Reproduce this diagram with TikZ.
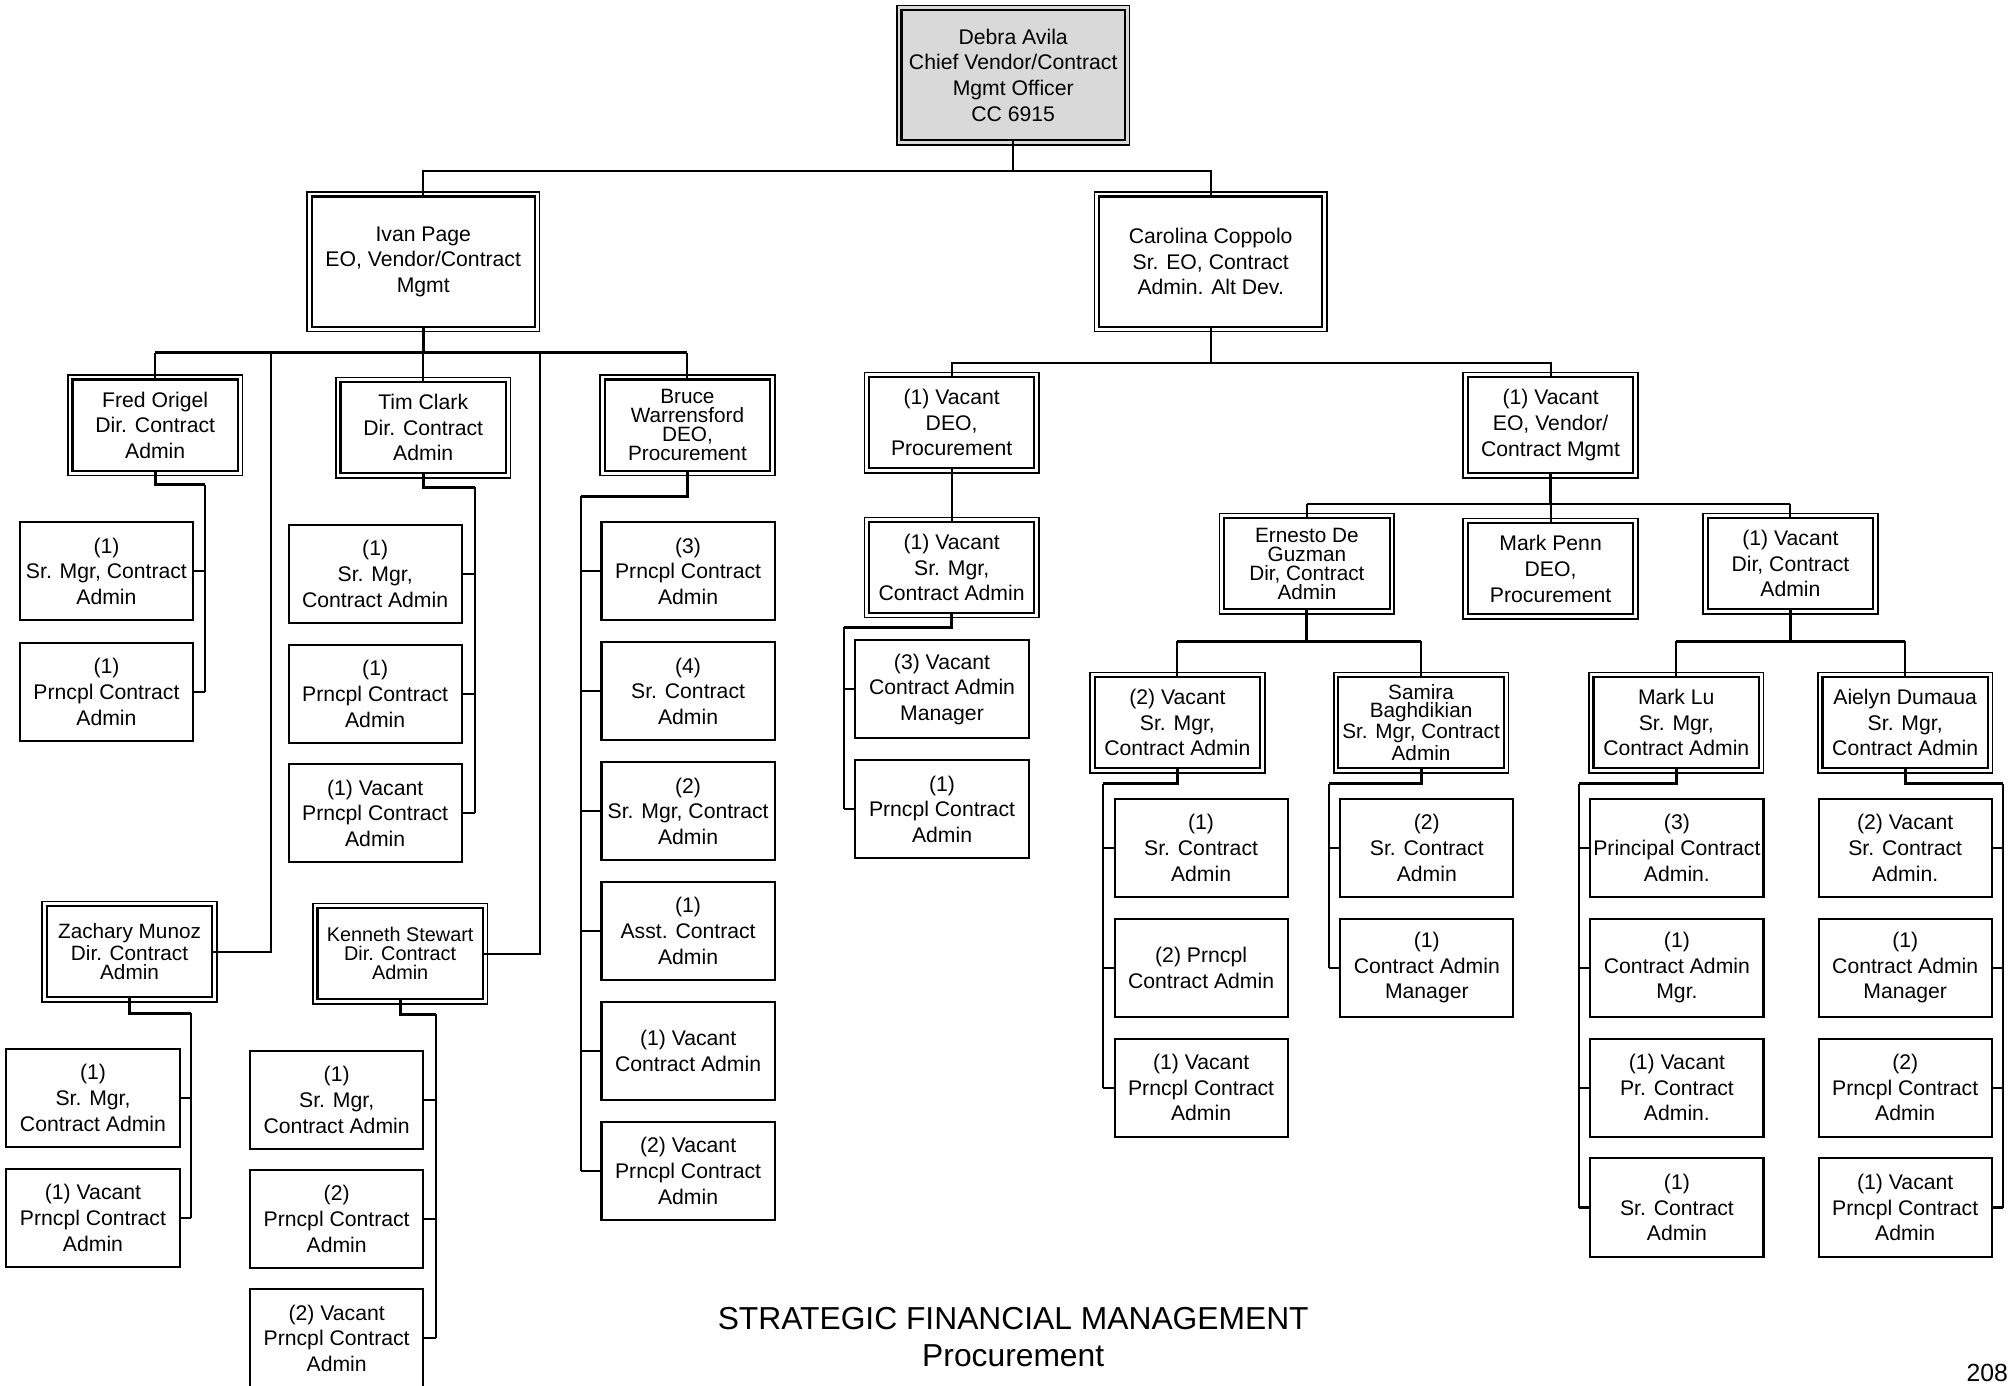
\documentclass[tikz,border=0pt]{standalone}
\usepackage{fontspec}
\setmainfont{Liberation Sans}
\usetikzlibrary{calc}
\definecolor{rootgray}{RGB}{217,217,217}
\tikzset{
  box/.style={align=center,inner sep=0pt,font=\fontsize{9.4}{11.4}\selectfont},
  staffbox/.style={box,draw,line width=.9pt,minimum width=27mm,minimum height=15.3mm},
  mgr/.style={box,draw,line width=1pt,fill=#1,
    preaction={draw,line width=4.8pt},preaction={draw=#1,line width=3.4pt},
    minimum width=25.8mm,minimum height=14.2mm},
  mgr/.default=white,
  big/.style={minimum width=34.8mm,minimum height=20.3mm},
  tight/.style={font=\fontsize{9.2}{8.4}\selectfont},
  link/.style={line width=.9pt},
  bus/.style={line width=1.3pt},
}
\begin{document}
\begin{tikzpicture}[x=.2mm,y=-.2mm]
  \useasboundingbox (0,0) rectangle (1568,1080);
  \node[mgr=rootgray,big] (root) at (790,58.5) {Debra Avila\\Chief Vendor/Contract\\Mgmt Officer\\CC 6915};
  \node[mgr,big] (ivan) at (330,204) {Ivan Page\\EO, Vendor/Contract\\Mgmt};
  \node[mgr,big] (carolina) at (944,204) {Carolina Coppolo\\Sr. EO, Contract\\Admin. Alt Dev.};
  \coordinate (rootbus) at (790,133);
  \draw[link] (root.south) -- (rootbus);
  \draw[link] (ivan.north) |- (carolina.north |- rootbus) -- (carolina.north);

  \node[mgr] (fred) at (121,331.5) {Fred Origel\\Dir. Contract\\Admin};
  \node[mgr] (tim) at (330,333.5) {Tim Clark\\Dir. Contract\\Admin};
  \node[mgr,tight] (bruce) at (536,331.5) {Bruce\\Warrensford\\DEO,\\Procurement};
  \node[mgr,tight] (zach) at (101,742) {Zachary Munoz\\Dir. Contract\\Admin};
  \node[mgr,tight,font=\fontsize{8.8}{8.4}\selectfont] (ken) at (312,743.5) {Kenneth Stewart\\Dir. Contract\\Admin};
  \coordinate (ivanbus) at (330,275);
  \coordinate (zachtap) at (211,275);
  \coordinate (kentap) at (421,275);
  \draw[bus] (ivan.south) -- (ivanbus);
  \draw[bus] (fred.north |- ivanbus) -- (bruce.north |- ivanbus);
  \draw[link] (fred.north) -- (fred.north |- ivanbus);
  \draw[link] (bruce.north) -- (bruce.north |- ivanbus);
  \draw[link] (ivanbus) -- (tim.north);
  \draw[link] (zach.east) -| (zachtap);
  \draw[link] (ken.east) -| (kentap);

  \foreach \y/\t [count=\i] in {445.5/{(1)\\Sr. Mgr, Contract\\Admin},539.5/{(1)\\Prncpl Contract\\Admin}}
    \node[staffbox] (fred\i) at (83,\y) {\t};
  \foreach \y/\t [count=\i] in {447.5/{(1)\\Sr. Mgr,\\Contract Admin},541/{(1)\\Prncpl Contract\\Admin},634/{(1) Vacant\\Prncpl Contract\\Admin}}
    \node[staffbox] (tim\i) at (292.5,\y) {\t};
  \foreach \y/\t [count=\i] in {445.5/{(3)\\Prncpl Contract\\Admin},539/{(4)\\Sr. Contract\\Admin},632.5/{(2)\\Sr. Mgr, Contract\\Admin},726/{(1)\\Asst. Contract\\Admin},819.5/{(1) Vacant\\Contract Admin},913/{(2) Vacant\\Prncpl Contract\\Admin}}
    \node[staffbox] (bruce\i) at (536.5,\y) {\t};
  \foreach \y/\t [count=\i] in {856/{(1)\\Sr. Mgr,\\Contract Admin},949.5/{(1) Vacant\\Prncpl Contract\\Admin}}
    \node[staffbox] (zach\i) at (72.5,\y) {\t};
  \foreach \y/\t [count=\i] in {857.5/{(1)\\Sr. Mgr,\\Contract Admin},950.5/{(2)\\Prncpl Contract\\Admin},1043.5/{(2) Vacant\\Prncpl Contract\\Admin}}
    \node[staffbox] (ken\i) at (262.5,\y) {\t};

  \coordinate (fredbus) at (160,378);
  \draw[bus] (fred.south) |- (fredbus);
  \draw[link] (fredbus) -- (fredbus |- fred2.east);
  \foreach \i in {1,2} \draw[link] (fredbus |- fred\i.east) -- (fred\i.east);
  \coordinate (timbus) at (370,380);
  \draw[bus] (tim.south) |- (timbus);
  \draw[link] (timbus) -- (timbus |- tim3.east);
  \foreach \i in {1,2,3} \draw[link] (timbus |- tim\i.east) -- (tim\i.east);
  \coordinate (brucebus) at (453,387);
  \draw[bus] (bruce.south) |- (brucebus);
  \draw[link] (brucebus) -- (brucebus |- bruce6.west);
  \foreach \i in {1,...,6} \draw[link] (brucebus |- bruce\i.west) -- (bruce\i.west);
  \coordinate (zachbus) at (149,790);
  \draw[bus] (zach.south) |- (zachbus);
  \draw[link] (zachbus) -- (zachbus |- zach2.east);
  \foreach \i in {1,2} \draw[link] (zachbus |- zach\i.east) -- (zach\i.east);
  \coordinate (kenbus) at (340,791);
  \draw[bus] (ken.south) |- (kenbus);
  \draw[link] (kenbus) -- (kenbus |- ken3.east);
  \foreach \i in {1,2,3} \draw[link] (kenbus |- ken\i.east) -- (ken\i.east);

  \node[mgr] (vdeo) at (742,329.5) {(1) Vacant\\DEO,\\Procurement};
  \node[mgr] (vsm) at (742,442.5) {(1) Vacant\\Sr. Mgr,\\Contract Admin};
  \node[mgr,minimum height=15mm] (veo) at (1209,331.5) {(1) Vacant\\EO, Vendor/\\Contract Mgmt};
  \coordinate (carbus) at (944,283);
  \draw[link] (carolina.south) -- (carbus);
  \draw[link] (vdeo.north) |- (veo.north |- carbus) -- (veo.north);
  \draw[link] (vdeo.south) -- (vsm.north);
  \foreach \y/\t [count=\i] in {537.5/{(3) Vacant\\Contract Admin\\Manager},631/{(1)\\Prncpl Contract\\Admin}}
    \node[staffbox] (vsm\i) at (734.5,\y) {\t};
  \coordinate (vsmbus) at (658,489);
  \draw[bus] (vsm.south) |- (vsmbus);
  \draw[link] (vsmbus) -- (vsmbus |- vsm2.west);
  \foreach \i in {1,2} \draw[link] (vsmbus |- vsm\i.west) -- (vsm\i.west);

  \node[mgr,tight] (ernesto) at (1019,439.5) {Ernesto De\\Guzman\\Dir, Contract\\Admin};
  \node[mgr] (penn) at (1209,443.5) {Mark Penn\\DEO,\\Procurement};
  \node[mgr] (vdir) at (1396,439.5) {(1) Vacant\\Dir, Contract\\Admin};
  \coordinate (veobus) at (1209,393);
  \draw[bus] (veo.south) -- (veobus);
  \draw[bus] (ernesto.north |- veobus) -- (vdir.north |- veobus);
  \draw[link] (ernesto.north) -- (ernesto.north |- veobus);
  \draw[link] (vdir.north) -- (vdir.north |- veobus);
  \draw[link] (veobus) -- (penn.north);

  \node[mgr] (v2sm) at (918,563.5) {(2) Vacant\\Sr. Mgr,\\Contract Admin};
  \node[mgr,font=\fontsize{9.2}{8}\selectfont] (samira) at (1108,563.5) {Samira\\Baghdikian\\Sr. Mgr, Contract\\Admin};
  \node[mgr] (marklu) at (1307,563.5) {Mark Lu\\Sr. Mgr,\\Contract Admin};
  \node[mgr] (aielyn) at (1485.5,563.5) {Aielyn Dumaua\\Sr. Mgr,\\Contract Admin};
  \coordinate (ernbus) at (1019,500);
  \draw[bus] (ernesto.south) -- (ernbus);
  \draw[bus] (v2sm.north |- ernbus) -- (samira.north |- ernbus);
  \draw[link] (v2sm.north) -- (v2sm.north |- ernbus);
  \draw[link] (samira.north) -- (samira.north |- ernbus);
  \coordinate (vdirbus) at (1396,500);
  \draw[bus] (vdir.south) -- (vdirbus);
  \draw[bus] (marklu.north |- vdirbus) -- (aielyn.north |- vdirbus);
  \draw[link] (marklu.north) -- (marklu.north |- vdirbus);
  \draw[link] (aielyn.north) -- (aielyn.north |- vdirbus);

  \foreach \y/\t [count=\i] in {661/{(1)\\Sr. Contract\\Admin},754.5/{(2) Prncpl\\Contract Admin},848/{(1) Vacant\\Prncpl Contract\\Admin}}
    \node[staffbox] (v2sm\i) at (936.5,\y) {\t};
  \foreach \y/\t [count=\i] in {661/{(2)\\Sr. Contract\\Admin},754.5/{(1)\\Contract Admin\\Manager}}
    \node[staffbox] (samira\i) at (1112.5,\y) {\t};
  \foreach \y/\t [count=\i] in {661/{(3)\\Principal Contract\\Admin.},754.5/{(1)\\Contract Admin\\Mgr.},848/{(1) Vacant\\Pr. Contract\\Admin.},941.5/{(1)\\Sr. Contract\\Admin}}
    \node[staffbox] (marklu\i) at (1307.5,\y) {\t};
  \foreach \y/\t [count=\i] in {661/{(2) Vacant\\Sr. Contract\\Admin.},754.5/{(1)\\Contract Admin\\Manager},848/{(2)\\Prncpl Contract\\Admin},941.5/{(1) Vacant\\Prncpl Contract\\Admin}}
    \node[staffbox] (aielyn\i) at (1485.5,\y) {\t};

  \coordinate (v2bus) at (860,611);
  \draw[bus] (v2sm.south) |- (v2bus);
  \draw[link] (v2bus) -- (v2bus |- v2sm3.west);
  \foreach \i in {1,2,3} \draw[link] (v2bus |- v2sm\i.west) -- (v2sm\i.west);
  \coordinate (sambus) at (1036,611);
  \draw[bus] (samira.south) |- (sambus);
  \draw[link] (sambus) -- (sambus |- samira2.west);
  \foreach \i in {1,2} \draw[link] (sambus |- samira\i.west) -- (samira\i.west);
  \coordinate (lubus) at (1231,611);
  \draw[bus] (marklu.south) |- (lubus);
  \draw[link] (lubus) -- (lubus |- marklu4.west);
  \foreach \i in {1,...,4} \draw[link] (lubus |- marklu\i.west) -- (marklu\i.west);
  \coordinate (aibus) at (1562,611);
  \draw[bus] (aielyn.south) |- (aibus);
  \draw[link] (aibus) -- (aibus |- aielyn4.east);
  \foreach \i in {1,...,4} \draw[link] (aibus |- aielyn\i.east) -- (aielyn\i.east);

  \node[align=center,inner sep=0pt,font=\fontsize{14.1}{16.5}\selectfont] (title) at (790,1042.5) {STRATEGIC FINANCIAL MANAGEMENT\\Procurement};
  \node[anchor=south east,inner sep=0pt,font=\fontsize{11}{13}\selectfont] (pageno) at (1566,1078) {208};
\end{tikzpicture}
\end{document}
